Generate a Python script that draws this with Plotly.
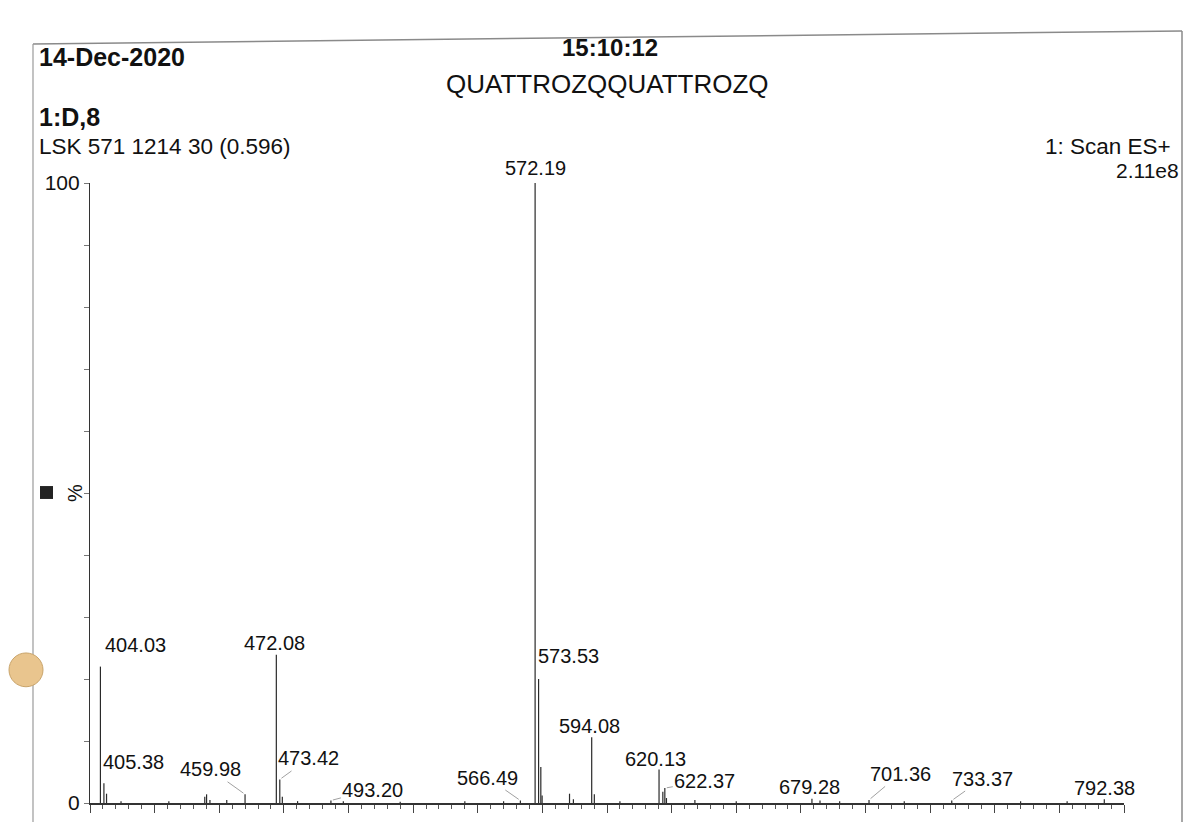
import plotly.graph_objects as go

# ---- data ----
mz_labeled = [404.03, 405.38, 459.98, 472.08, 473.42, 493.20, 566.49, 572.19,
              573.53, 594.08, 620.13, 622.37, 679.28, 701.36, 733.37, 792.38]
int_labeled = [22.0, 3.2, 1.4, 23.9, 3.8, 0.4, 0.4, 100.0,
               20.0, 10.6, 5.4, 2.4, 0.7, 0.5, 0.4, 0.6]
label_text = ["404.03", "405.38", "459.98", "472.08", "473.42", "493.20", "566.49", "572.19",
              "573.53", "594.08", "620.13", "622.37", "679.28", "701.36", "733.37", "792.38"]

mz_minor = [406.4, 412.0, 430.5, 444.4, 445.1, 446.4, 452.9, 474.4, 480.3, 498.0,
            520.0, 545.0, 560.0, 574.4, 574.9, 585.5, 587.0, 595.1, 605.0, 621.6,
            623.0, 634.0, 650.0, 682.4, 690.0, 715.0, 760.0, 778.0]
int_minor = [1.5, 0.3, 0.3, 1.0, 1.4, 0.5, 0.5, 1.0, 0.3, 0.3,
             0.2, 0.3, 0.3, 5.8, 1.2, 1.5, 0.6, 1.4, 0.3, 1.8,
             0.8, 0.5, 0.3, 0.4, 0.3, 0.3, 0.3, 0.3]

x_range = [400, 800]
y_ticks = [0, 10, 20, 30, 40, 50, 60, 70, 80, 90, 100]
y_ticktext = ["0", "", "", "", "", "", "", "", "", "", "100"]

# label offsets (pixels) and whether a leader line is drawn
label_style = {
    "404.03": (35, -22, False), "405.38": (30, -21, False), "459.98": (-35, -25, True),
    "472.08": (-2, -12, False), "473.42": (29, -21, True), "493.20": (42, -11, True),
    "566.49": (-33, -23, True), "572.19": (0, -15, False), "573.53": (30, -23, False),
    "594.08": (-2, -11, False), "620.13": (-4, -11, False), "622.37": (40, -7, True),
    "679.28": (-2, -12, False), "701.36": (31, -26, True), "733.37": (31, -22, True),
    "792.38": (0, -11, False),
}

FONT = "Liberation Sans, Arial, sans-serif"
W, H = 1185, 826
L, R, T, B = 90, 1124, 183, 807


def px(x):
    return (x - L) / (R - L)


def py(y):
    return (B - y) / (B - T)


# stick spectrum
xs, ys = [], []
for m, h in list(zip(mz_minor, int_minor)) + list(zip(mz_labeled, int_labeled)):
    xs += [m, m, None]
    ys += [0, h, None]

fig = go.Figure()
fig.add_trace(go.Scatter(x=xs, y=ys, mode="lines",
                         line=dict(color="#2a2a2a", width=1.2),
                         hoverinfo="skip", showlegend=False, cliponaxis=False))

annotations = []
for m, h, t in zip(mz_labeled, int_labeled, label_text):
    dx, dy, leader = label_style[t]
    annotations.append(dict(
        x=m, y=h, xref="x", yref="y", text=t, showarrow=True,
        ax=dx, ay=dy, axref="pixel", ayref="pixel",
        arrowhead=0, arrowwidth=0.8, standoff=2,
        arrowcolor="#888888" if leader else "rgba(0,0,0,0)",
        font=dict(family=FONT, size=20, color="#111111"),
    ))


def ptxt(x, y, text, size, bold=False, xanchor="left", angle=0):
    annotations.append(dict(
        x=px(x), y=py(y), xref="paper", yref="paper",
        text=f"<b>{text}</b>" if bold else text, showarrow=False,
        xanchor=xanchor, yanchor="middle", textangle=angle,
        font=dict(family=FONT, size=size, color="#111111"),
    ))


ptxt(37, 56, "14-Dec-2020", 25, bold=True)
ptxt(610, 47, "15:10:12", 24, bold=True, xanchor="center")
ptxt(607, 83, "QUATTROZQQUATTROZQ", 26, xanchor="center")
ptxt(37, 117, "1:D,8", 25, bold=True)
ptxt(37, 146, "LSK 571 1214 30 (0.596)", 22.5)
ptxt(1173, 146, "1: Scan ES+", 22.5, xanchor="right")
ptxt(1181, 170, "2.11e8", 21, xanchor="right")
ptxt(75, 495, "%", 20, xanchor="center", angle=-90)

shapes = [
    dict(type="rect", xref="paper", yref="paper", x0=px(40), x1=px(53), y0=py(501), y1=py(488),
         fillcolor="#222222", line=dict(width=0)),
    dict(type="line", xref="paper", yref="paper", x0=px(33), y0=py(43), x1=px(1182), y1=py(30),
         line=dict(color="#8a8a8a", width=1.5)),
    dict(type="line", xref="paper", yref="paper", x0=px(33), y0=py(43), x1=px(33), y1=py(826),
         line=dict(color="#9a9a9a", width=1.2)),
    dict(type="line", xref="paper", yref="paper", x0=px(1182), y0=py(30), x1=px(1182), y1=py(826),
         line=dict(color="#8a8a8a", width=1.5)),
    dict(type="circle", xref="paper", yref="paper", x0=px(9), x1=px(43), y0=py(690), y1=py(656),
         fillcolor="#e9c58e", line=dict(color="#c9a46a", width=1)),
]

fig.update_layout(
    width=W, height=H,
    margin=dict(l=L, r=W - R, t=T, b=H - B, pad=0),
    paper_bgcolor="white", plot_bgcolor="white",
    showlegend=False,
    annotations=annotations, shapes=shapes,
    xaxis=dict(range=x_range, showgrid=False, zeroline=False, showline=True,
               linecolor="#333333", linewidth=1.5, ticks="outside", tickcolor="#444444",
               ticklen=8, tickwidth=1, dtick=25, tick0=400, showticklabels=False,
               minor=dict(dtick=5, ticklen=4, ticks="outside", tickcolor="#555555", tickwidth=1)),
    yaxis=dict(range=[0, 100], showgrid=False, zeroline=False, showline=True,
               linecolor="#333333", linewidth=1.2, ticks="outside", tickcolor="#777777",
               ticklen=5, tickvals=y_ticks, ticktext=y_ticktext,
               tickfont=dict(family=FONT, size=21, color="#111111")),
)

fig.write_html("out.html", config={"displayModeBar": False},
               post_script="document.body.style.margin='0';document.body.style.overflow='hidden';")
